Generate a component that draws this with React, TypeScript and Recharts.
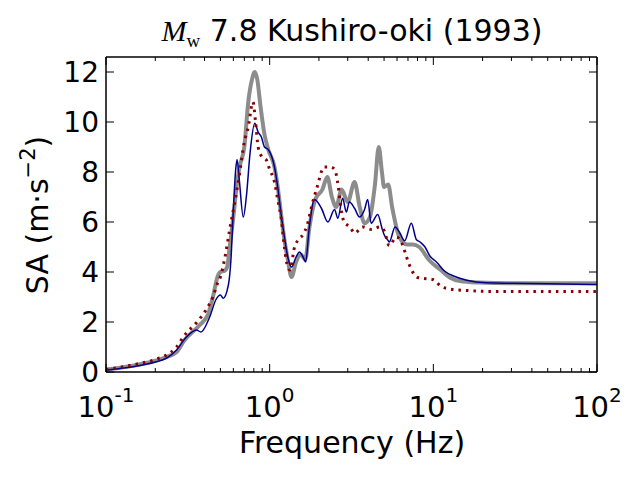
import React from 'react';
import { LineChart, Line, XAxis, YAxis } from 'recharts';

// gray: observed spectrum (thick)
const grayFreq = [0.1, 0.146, 0.2, 0.234, 0.27, 0.3, 0.37, 0.42, 0.45, 0.48, 0.5, 0.53, 0.55, 0.57, 0.6, 0.63, 0.655, 0.7, 0.74, 0.78, 0.81, 0.84, 0.88, 0.93, 0.98, 1.07, 1.12, 1.18, 1.23, 1.29, 1.36, 1.45, 1.55, 1.65, 1.75, 1.9, 2.1, 2.25, 2.4, 2.55, 2.75, 3.0, 3.3, 3.55, 3.8, 4.1, 4.4, 4.64, 4.85, 5.0, 5.3, 5.6, 6.2, 6.9, 7.5, 8.2, 9.5, 11, 12.6, 14.5, 19, 30, 100];
const grayValues = [0.1, 0.25, 0.45, 0.6, 0.8, 1.25, 1.85, 2.3, 3.0, 3.8, 4.0, 4.05, 4.2, 5.0, 6.2, 7.5, 8.2, 9.0, 10.8, 11.7, 12.0, 11.7, 10.6, 9.5, 8.9, 8.2, 7.4, 6.2, 5.3, 4.5, 3.8, 4.4, 4.7, 4.5, 5.8, 6.9, 7.3, 7.8, 7.0, 6.6, 7.3, 6.8, 7.6, 6.6, 5.95, 6.2, 7.5, 9.0, 8.0, 7.4, 7.5, 6.6, 5.4, 5.1, 5.1, 5.0, 4.45, 4.1, 3.78, 3.64, 3.58, 3.55, 3.55];

// blue: simulation 1 (thin)
const blueFreq = [0.1, 0.146, 0.2, 0.234, 0.27, 0.31, 0.357, 0.38, 0.43, 0.47, 0.5, 0.52, 0.56, 0.58, 0.6, 0.62, 0.632, 0.65, 0.69, 0.72, 0.76, 0.81, 0.85, 0.89, 0.93, 0.98, 1.07, 1.12, 1.18, 1.23, 1.29, 1.36, 1.45, 1.52, 1.6, 1.66, 1.74, 1.88, 2.07, 2.27, 2.49, 2.61, 2.79, 2.94, 3.07, 3.3, 3.54, 3.8, 3.97, 4.17, 4.57, 4.88, 5.0, 5.24, 5.38, 5.84, 6.2, 6.68, 7.34, 7.87, 8.3, 8.9, 9.5, 10.45, 11.7, 13.3, 16, 21, 31, 100];
const blueValues = [0.08, 0.21, 0.4, 0.55, 0.88, 1.4, 1.68, 1.6, 2.2, 2.9, 3.08, 2.95, 3.5, 4.5, 6.5, 8.1, 8.5, 7.8, 6.2, 7.0, 8.8, 9.95, 9.6, 9.4, 9.0, 8.9, 8.2, 7.4, 6.2, 5.4, 4.6, 4.2, 4.6, 4.8, 4.6, 4.4, 5.7, 6.9, 6.55, 6.0, 6.5, 6.15, 6.95, 6.4, 6.8, 6.55, 6.2, 6.5, 6.9, 5.95, 6.3, 5.7, 5.5, 5.3, 5.2, 5.8, 5.6, 5.25, 5.95, 5.3, 5.2, 5.0, 4.65, 4.4, 4.04, 3.84, 3.67, 3.57, 3.55, 3.5];

// red: simulation 2 (dotted)
const redFreq = [0.1, 0.15, 0.2, 0.234, 0.27, 0.3, 0.325, 0.36, 0.41, 0.45, 0.48, 0.5, 0.53, 0.57, 0.61, 0.65, 0.7, 0.74, 0.79, 0.82, 0.85, 0.9, 0.95, 1.0, 1.07, 1.12, 1.18, 1.23, 1.29, 1.33, 1.42, 1.5, 1.6, 1.7, 1.8, 1.95, 2.15, 2.35, 2.5, 2.6, 2.75, 2.85, 3.1, 3.3, 3.7, 4.2, 4.69, 5.0, 5.38, 5.94, 6.52, 6.86, 7.34, 8.05, 8.6, 9.9, 11.3, 12.1, 16, 25, 100];
const redValues = [0.1, 0.3, 0.5, 0.68, 1.0, 1.45, 1.7, 2.0, 2.5, 3.0, 3.55, 3.8, 4.5, 5.7, 6.75, 7.8, 9.2, 9.8, 10.8, 10.0, 9.0, 8.6, 8.5, 8.1, 7.6, 6.9, 6.1, 5.0, 4.2, 4.08, 5.0, 5.3, 5.5, 5.9, 6.6, 7.4, 8.2, 8.2, 8.1, 7.6, 6.4, 6.0, 5.8, 5.55, 5.8, 5.7, 5.8, 5.66, 5.05, 5.4, 5.05, 4.6, 4.1, 3.78, 3.75, 3.7, 3.4, 3.34, 3.26, 3.22, 3.22];

const xTicks = [0.1, 0.2, 0.3, 0.4, 0.5, 0.6, 0.7, 0.8, 0.9, 1, 2, 3, 4, 5, 6, 7, 8, 9, 10, 20, 30, 40, 50, 60, 70, 80, 90, 100];
const decadeLabels: Record<string, string> = { '0.1': '-1', '1': '0', '10': '1', '100': '2' };
const yTicks = [0, 2, 4, 6, 8, 10, 12];

const FONT = '"DejaVu Sans", sans-serif';
const FS = 28;
const LABEL_FS = 30;

const toPoints = (freq: number[], vals: number[]) => freq.map((f, i) => ({ f, v: vals[i] }));
const grayData = toPoints(grayFreq, grayValues);
const blueData = toPoints(blueFreq, blueValues);
const redData = toPoints(redFreq, redValues);

const BottomTick = ({ x, y, payload }: any) => {
  const exp = decadeLabels[String(payload.value)];
  const len = exp ? 8 : 4;
  return (
    <g>
      <line x1={x} x2={x} y1={y} y2={y - len} stroke="#000" strokeWidth={1} />
      {exp && (
        <text x={x} y={y + 45} textAnchor="middle" fontSize={FS + 1} fontFamily={FONT} fill="#000">
          10<tspan dy={-15} fontSize={20}>{exp}</tspan>
        </text>
      )}
    </g>
  );
};

const TopTick = ({ x, y, payload }: any) => {
  const major = decadeLabels[String(payload.value)] !== undefined;
  return <line x1={x} x2={x} y1={y} y2={y + (major ? 8 : 4)} stroke="#000" strokeWidth={1} />;
};

const LeftTick = ({ x, y, payload }: any) => (
  <g>
    <line x1={x} x2={x + 8} y1={y} y2={y} stroke="#000" strokeWidth={1} />
    <text x={x - 7} y={y + 10} textAnchor="end" fontSize={FS} fontFamily={FONT} fill="#000">
      {payload.value}
    </text>
  </g>
);

const RightTick = ({ x, y }: any) => (
  <line x1={x} x2={x - 8} y1={y} y2={y} stroke="#000" strokeWidth={1} />
);

export default function App() {
  const axisLine = { stroke: '#000', strokeWidth: 1.5 };
  return (
    <div style={{ position: 'absolute', left: 0, top: 0, width: 635, height: 478, background: '#fff' }}>
      <LineChart width={635} height={478} margin={{ top: 55, right: 36, left: 0, bottom: 0 }}>
        <XAxis
          dataKey="f"
          type="number"
          scale="log"
          domain={[0.1, 100]}
          allowDataOverflow
          ticks={xTicks}
          interval={0}
          height={106}
          tickSize={0}
          tickMargin={0}
          tickLine={false}
          axisLine={axisLine}
          tick={<BottomTick />}
        />
        <XAxis
          xAxisId="top"
          orientation="top"
          dataKey="f"
          type="number"
          scale="log"
          domain={[0.1, 100]}
          allowDataOverflow
          ticks={xTicks}
          interval={0}
          height={2}
          tickSize={0}
          tickMargin={0}
          tickLine={false}
          axisLine={axisLine}
          tick={<TopTick />}
        />
        <YAxis
          type="number"
          domain={[0, 12.6]}
          allowDataOverflow
          ticks={yTicks}
          interval={0}
          width={106}
          tickSize={0}
          tickMargin={0}
          tickLine={false}
          axisLine={axisLine}
          tick={<LeftTick />}
        />
        <YAxis
          yAxisId="right"
          orientation="right"
          type="number"
          domain={[0, 12.6]}
          allowDataOverflow
          ticks={yTicks}
          interval={0}
          width={2}
          tickSize={0}
          tickMargin={0}
          tickLine={false}
          axisLine={axisLine}
          tick={<RightTick />}
        />
        <Line data={grayData} dataKey="v" type="monotone" stroke="#8c8c8c" strokeWidth={4} dot={false} isAnimationActive={false} />
        <Line data={blueData} dataKey="v" type="monotone" stroke="#00008b" strokeWidth={1.5} dot={false} isAnimationActive={false} />
        <Line data={redData} dataKey="v" type="monotone" stroke="#8b0000" strokeWidth={3} strokeDasharray="2.5 5" dot={false} isAnimationActive={false} />
      </LineChart>
      <svg width={635} height={478} style={{ position: 'absolute', left: 0, top: 0, pointerEvents: 'none' }}>
        <text x={352} y={41} textAnchor="middle" fontSize={LABEL_FS} fontFamily={FONT} fill="#000">
          <tspan fontFamily='"Liberation Serif", serif' fontStyle="italic">M</tspan>
          <tspan fontFamily='"Liberation Serif", serif' fontSize={19} dy={6}>w</tspan>
          <tspan dy={-6}> 7.8 Kushiro-oki (1993)</tspan>
        </text>
        <text x={352} y={453} textAnchor="middle" fontSize={LABEL_FS} fontFamily={FONT} fill="#000">
          Frequency (Hz)
        </text>
        <text
          transform="translate(48,215) rotate(-90)"
          x={0}
          y={0}
          textAnchor="middle"
          fontSize={LABEL_FS}
          fontFamily={FONT}
          fill="#000"
        >
          SA (m·s<tspan dy={-13} fontSize={21}>−2</tspan><tspan dy={13}>)</tspan>
        </text>
      </svg>
    </div>
  );
}
